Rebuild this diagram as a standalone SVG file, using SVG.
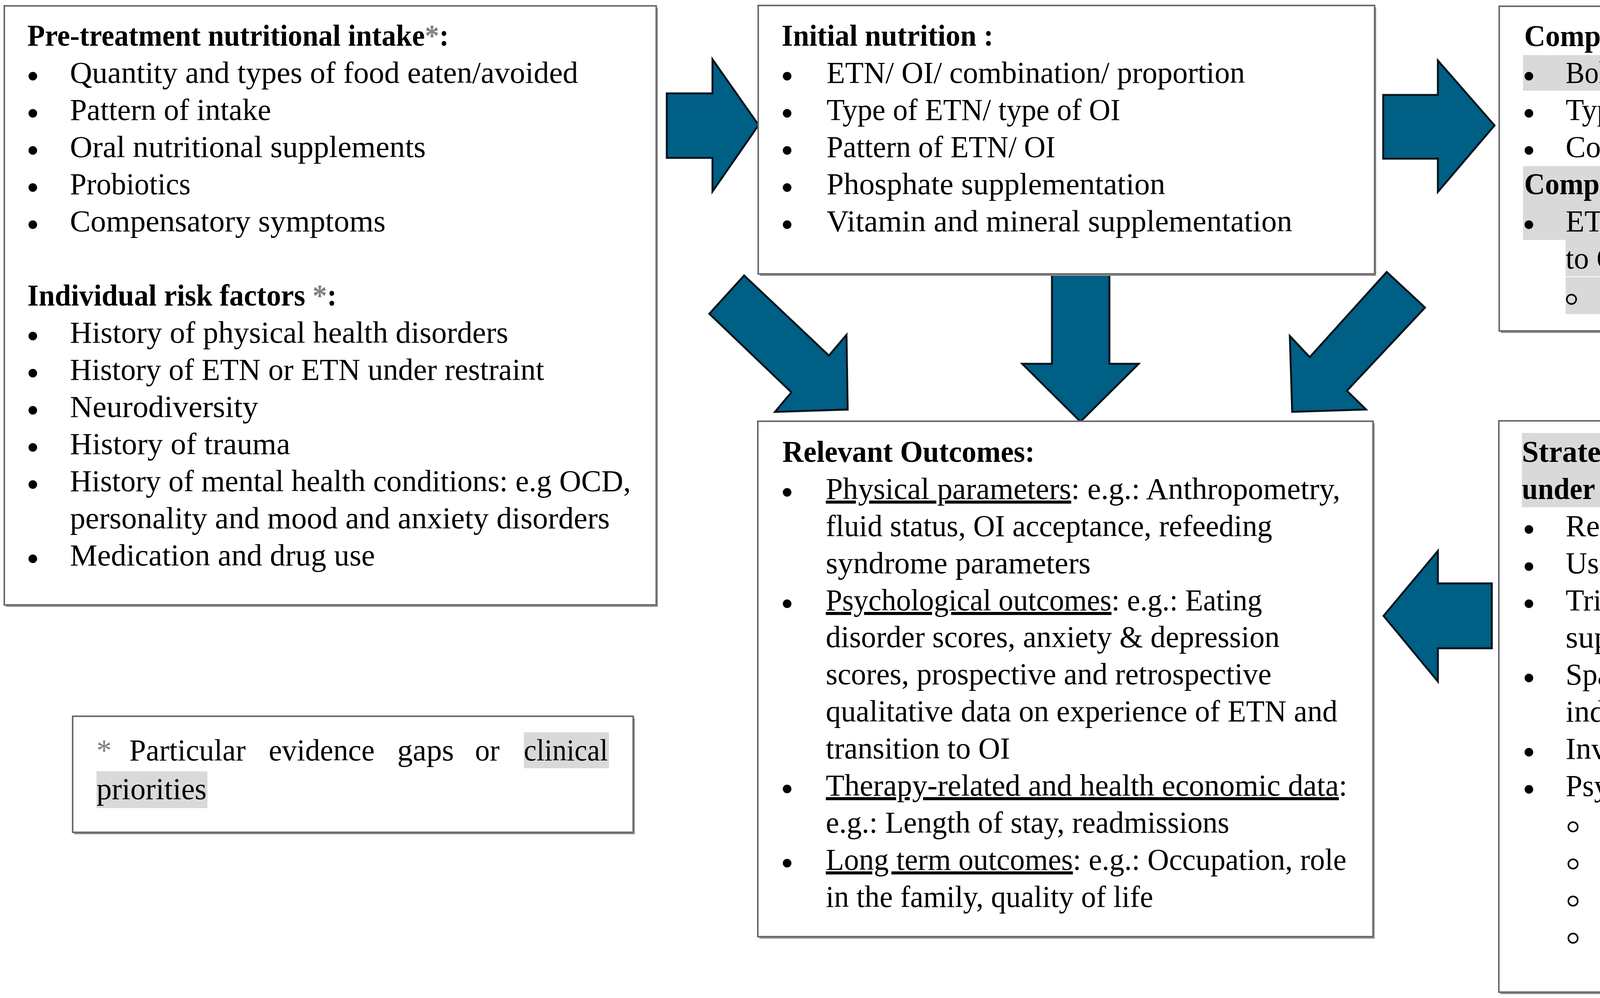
<svg xmlns="http://www.w3.org/2000/svg" width="5783" height="2554" viewBox="0 0 5783 2554">
<style>
.t{font-family:"Liberation Serif","Times New Roman",serif;font-size:78px;fill:#000}
.b{font-weight:bold}
.g{fill:#7f7f7f}
.u{text-decoration:underline}
.hl{fill:#d9d9d9}
.box{fill:#fff;stroke:#6a6a6a;stroke-width:4}
.sh{fill:#8f8f8f}
.arrow{fill:#005f85;stroke:#06141c;stroke-width:5;stroke-linejoin:miter}
.dot{fill:#000}
.ring{fill:none;stroke:#000;stroke-width:4}
</style>
<rect width="5783" height="2554" fill="#fff"/>

<g id="connectors">
<polygon class="arrow" points="1707,239 1824,239 1824,152 1942,320 1824,490 1824,404 1707,404"/>
<polygon class="arrow" points="3541,243 3681,243 3681,155 3826,321 3681,491 3681,406 3541,406"/>
<polygon class="arrow" points="2693,702 2840,702 2840,931 2915,931 2766,1079 2617,931 2693,931"/>
<polygon class="arrow" points="1905,705 2122,910 2167,857 2170,1048 1984,1054 2026,1004 1816,803"/>
<polygon class="arrow" points="3550,696 3648,787 3448,1000 3497,1048 3308,1054 3302,860 3353,914"/>
<polygon class="arrow" points="3819,1493 3681,1493 3681,1410 3542,1576 3681,1744 3681,1659 3819,1659"/>
</g>

<g id="pretreatment">
<rect class="sh" x="15" y="20" width="1669" height="1533"/>
<rect class="box" x="11" y="15" width="1669" height="1533"/>
<text class="t b" x="70" y="117" textLength="1079" lengthAdjust="spacingAndGlyphs">Pre-treatment nutritional intake<tspan class="g">*</tspan>:</text>
<g class="dot">
<circle cx="84" cy="195" r="11"/><circle cx="84" cy="290" r="11"/><circle cx="84" cy="385" r="11"/><circle cx="84" cy="480" r="11"/><circle cx="84" cy="575" r="11"/>
<circle cx="84" cy="860" r="11"/><circle cx="84" cy="955" r="11"/><circle cx="84" cy="1050" r="11"/><circle cx="84" cy="1145" r="11"/><circle cx="84" cy="1240" r="11"/><circle cx="84" cy="1430" r="11"/>
</g>
<text class="t" x="179" y="212" textLength="1301" lengthAdjust="spacingAndGlyphs">Quantity and types of food eaten/avoided</text>
<text class="t" x="179" y="307" textLength="515" lengthAdjust="spacingAndGlyphs">Pattern of intake</text>
<text class="t" x="179" y="402" textLength="911" lengthAdjust="spacingAndGlyphs">Oral nutritional supplements</text>
<text class="t" x="179" y="497" textLength="309" lengthAdjust="spacingAndGlyphs">Probiotics</text>
<text class="t" x="179" y="592" textLength="808" lengthAdjust="spacingAndGlyphs">Compensatory symptoms</text>
<text class="t b" x="70" y="782" textLength="792" lengthAdjust="spacingAndGlyphs">Individual risk factors <tspan class="g">*</tspan>:</text>
<text class="t" x="179" y="877" textLength="1122" lengthAdjust="spacingAndGlyphs">History of physical health disorders</text>
<text class="t" x="179" y="972" textLength="1214" lengthAdjust="spacingAndGlyphs">History of ETN or ETN under restraint</text>
<text class="t" x="179" y="1067" textLength="482" lengthAdjust="spacingAndGlyphs">Neurodiversity</text>
<text class="t" x="179" y="1162" textLength="564" lengthAdjust="spacingAndGlyphs">History of trauma</text>
<text class="t" x="179" y="1257" textLength="1436" lengthAdjust="spacingAndGlyphs">History of mental health conditions: e.g OCD,</text>
<text class="t" x="179" y="1352" textLength="1382" lengthAdjust="spacingAndGlyphs">personality and mood and anxiety disorders</text>
<text class="t" x="179" y="1447" textLength="781" lengthAdjust="spacingAndGlyphs">Medication and drug use</text>
</g>

<g id="initial-nutrition">
<rect class="sh" x="1945" y="19" width="1578" height="687"/>
<rect class="box" x="1941" y="14" width="1578" height="687"/>
<text class="t b" x="2001" y="117" textLength="542" lengthAdjust="spacingAndGlyphs">Initial nutrition :</text>
<g class="dot">
<circle cx="2015" cy="195" r="11"/><circle cx="2015" cy="290" r="11"/><circle cx="2015" cy="385" r="11"/><circle cx="2015" cy="480" r="11"/><circle cx="2015" cy="575" r="11"/>
</g>
<text class="t" x="2116" y="212" textLength="1071" lengthAdjust="spacingAndGlyphs">ETN/ OI/ combination/ proportion</text>
<text class="t" x="2116" y="307" textLength="752" lengthAdjust="spacingAndGlyphs">Type of ETN/ type of OI</text>
<text class="t" x="2116" y="402" textLength="586" lengthAdjust="spacingAndGlyphs">Pattern of ETN/ OI</text>
<text class="t" x="2116" y="497" textLength="867" lengthAdjust="spacingAndGlyphs">Phosphate supplementation</text>
<text class="t" x="2116" y="592" textLength="1192" lengthAdjust="spacingAndGlyphs">Vitamin and mineral supplementation</text>
</g>

<g id="comparisons">
<rect class="sh" x="3842" y="21" width="1933" height="831"/>
<rect class="box" x="3838" y="16" width="1933" height="831"/>
<rect class="hl" x="3899" y="141" width="671" height="91"/>
<rect class="hl" x="3899" y="425" width="1059" height="94"/>
<rect class="hl" x="3899" y="519" width="1773" height="95"/>
<rect class="hl" x="4008" y="614" width="160" height="93"/>
<rect class="hl" x="4008" y="709" width="730" height="95"/>
<text class="t b" x="3902" y="118" textLength="1094" lengthAdjust="spacingAndGlyphs">Comparisons initially and overall:</text>
<g class="dot">
<circle cx="3914" cy="195" r="11"/><circle cx="3914" cy="290" r="11"/><circle cx="3914" cy="385" r="11"/><circle cx="3914" cy="575" r="11"/>
</g>
<circle class="ring" cx="4023" cy="766" r="12"/>
<text class="t" x="4008" y="212" textLength="562" lengthAdjust="spacingAndGlyphs">Bolus ETN vs OI <tspan class="g">*</tspan></text>
<text class="t" x="4008" y="307" textLength="1087" lengthAdjust="spacingAndGlyphs">Types of ETN: bolus vs continuous</text>
<text class="t" x="4008" y="402" textLength="1193" lengthAdjust="spacingAndGlyphs">Comparisons of different types of feed</text>
<text class="t b" x="3902" y="497" textLength="1056" lengthAdjust="spacingAndGlyphs">Comparisons during transition <tspan class="g">*</tspan>:</text>
<text class="t" x="4008" y="592" textLength="1664" lengthAdjust="spacingAndGlyphs">ETN predominant vs OI predominant vs transitioned</text>
<text class="t" x="4008" y="687" textLength="160" lengthAdjust="spacingAndGlyphs">to OI</text>
<text class="t" x="4122" y="782" textLength="616" lengthAdjust="spacingAndGlyphs">Vs OI from the start</text>
</g>

<g id="outcomes">
<rect class="sh" x="1944" y="1083" width="1575" height="1319"/>
<rect class="box" x="1940" y="1078" width="1575" height="1319"/>
<text class="t b" x="2003" y="1182" textLength="646" lengthAdjust="spacingAndGlyphs">Relevant Outcomes:</text>
<g class="dot">
<circle cx="2015" cy="1260" r="11"/><circle cx="2015" cy="1545" r="11"/><circle cx="2015" cy="2019" r="11"/><circle cx="2015" cy="2209" r="11"/>
</g>
<text class="t" x="2114" y="1277" textLength="1317" lengthAdjust="spacingAndGlyphs"><tspan class="u">Physical parameters</tspan>: e.g.: Anthropometry,</text>
<text class="t" x="2114" y="1372" textLength="1143" lengthAdjust="spacingAndGlyphs">fluid status, OI acceptance, refeeding</text>
<text class="t" x="2114" y="1467" textLength="678" lengthAdjust="spacingAndGlyphs">syndrome parameters</text>
<text class="t" x="2114" y="1562" textLength="1117" lengthAdjust="spacingAndGlyphs"><tspan class="u">Psychological outcomes</tspan>: e.g.: Eating</text>
<text class="t" x="2114" y="1656" textLength="1162" lengthAdjust="spacingAndGlyphs">disorder scores, anxiety &amp; depression</text>
<text class="t" x="2114" y="1751" textLength="1141" lengthAdjust="spacingAndGlyphs">scores, prospective and retrospective</text>
<text class="t" x="2114" y="1846" textLength="1310" lengthAdjust="spacingAndGlyphs">qualitative data on experience of ETN and</text>
<text class="t" x="2114" y="1941" textLength="472" lengthAdjust="spacingAndGlyphs">transition to OI</text>
<text class="t" x="2114" y="2036" textLength="1335" lengthAdjust="spacingAndGlyphs"><tspan class="u">Therapy-related and health economic data</tspan>:</text>
<text class="t" x="2114" y="2131" textLength="1033" lengthAdjust="spacingAndGlyphs">e.g.: Length of stay, readmissions</text>
<text class="t" x="2114" y="2226" textLength="1333" lengthAdjust="spacingAndGlyphs"><tspan class="u">Long term outcomes</tspan>: e.g.: Occupation, role</text>
<text class="t" x="2114" y="2321" textLength="838" lengthAdjust="spacingAndGlyphs">in the family, quality of life</text>
</g>

<g id="strategies">
<rect class="sh" x="3841" y="1082" width="1934" height="1462"/>
<rect class="box" x="3837" y="1077" width="1934" height="1462"/>
<rect class="hl" x="3896" y="1108" width="1819" height="93"/>
<rect class="hl" x="3896" y="1201" width="1045" height="97"/>
<text class="t b" x="3896" y="1182" textLength="1816" lengthAdjust="spacingAndGlyphs">Strategies for managing transition from ETN and ETN</text>
<text class="t b" x="3896" y="1277" textLength="1045" lengthAdjust="spacingAndGlyphs">under restraint to voluntary OI<tspan class="g">*</tspan>:</text>
<g class="dot">
<circle cx="3914" cy="1355" r="11"/><circle cx="3914" cy="1450" r="11"/><circle cx="3914" cy="1545" r="11"/><circle cx="3914" cy="1735" r="11"/><circle cx="3914" cy="1925" r="11"/><circle cx="3914" cy="2020" r="11"/>
</g>
<g>
<circle class="ring" cx="4027" cy="2116" r="12"/><circle class="ring" cx="4027" cy="2211" r="12"/><circle class="ring" cx="4027" cy="2306" r="12"/><circle class="ring" cx="4027" cy="2401" r="12"/>
</g>
<text class="t" x="4008" y="1372" textLength="680" lengthAdjust="spacingAndGlyphs">Rearranging nutrition</text>
<text class="t" x="4008" y="1467" textLength="1507" lengthAdjust="spacingAndGlyphs">Using combination of ETN, ONS and oral intake</text>
<text class="t" x="4008" y="1562" textLength="1545" lengthAdjust="spacingAndGlyphs">Trialling foods in a safe space and enhanced meal</text>
<text class="t" x="4008" y="1657" textLength="246" lengthAdjust="spacingAndGlyphs">support</text>
<text class="t" x="4008" y="1752" textLength="1652" lengthAdjust="spacingAndGlyphs">Space to discuss expectations, targets of the team, the</text>
<text class="t" x="4008" y="1847" textLength="781" lengthAdjust="spacingAndGlyphs">individual and the carers</text>
<text class="t" x="4008" y="1942" textLength="1153" lengthAdjust="spacingAndGlyphs">Involving carers and peer supporters</text>
<text class="t" x="4008" y="2037" textLength="853" lengthAdjust="spacingAndGlyphs">Psychological support:&#160; e.g.</text>
<text class="t" x="4123" y="2132" textLength="669" lengthAdjust="spacingAndGlyphs">Distress management</text>
<text class="t" x="4123" y="2227" textLength="860" lengthAdjust="spacingAndGlyphs">Mitigating effects of trauma</text>
<text class="t" x="4123" y="2322" textLength="547" lengthAdjust="spacingAndGlyphs">Body image work</text>
<text class="t" x="4123" y="2417" textLength="1273" lengthAdjust="spacingAndGlyphs">Motivational interviewing/ enhancement</text>
</g>

<g id="legend">
<rect class="sh" x="190" y="1838" width="1435" height="297"/>
<rect class="box" x="186" y="1833" width="1435" height="297"/>
<rect class="hl" x="1341" y="1874" width="218" height="92"/>
<rect class="hl" x="247" y="1974" width="284" height="94"/>
<text class="t g" x="247" y="1946">*</text>
<text class="t" x="331" y="1946" textLength="298" lengthAdjust="spacingAndGlyphs">Particular</text>
<text class="t" x="688" y="1946" textLength="271" lengthAdjust="spacingAndGlyphs">evidence</text>
<text class="t" x="1017" y="1946" textLength="145" lengthAdjust="spacingAndGlyphs">gaps</text>
<text class="t" x="1216" y="1946" textLength="63" lengthAdjust="spacingAndGlyphs">or</text>
<text class="t" x="1341" y="1946" textLength="215" lengthAdjust="spacingAndGlyphs">clinical</text>
<text class="t" x="247" y="2045" textLength="282" lengthAdjust="spacingAndGlyphs">priorities</text>
</g>
</svg>
